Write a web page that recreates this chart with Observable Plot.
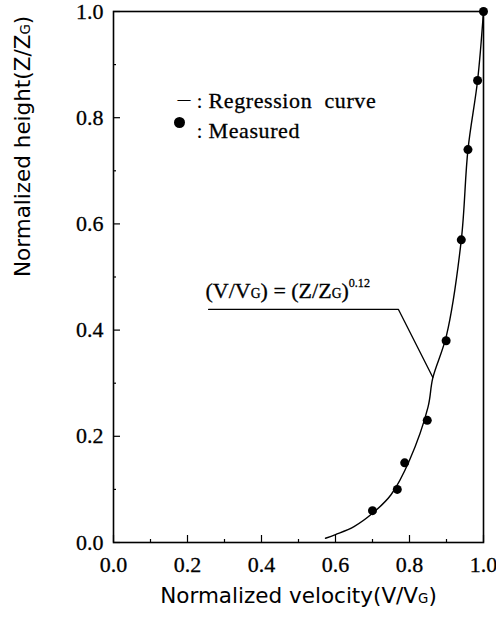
<!DOCTYPE html>
<html>
<head>
<meta charset="utf-8">
<script src="https://cdn.jsdelivr.net/npm/d3@7"></script>
<script src="https://cdn.jsdelivr.net/npm/@observablehq/plot@0.6"></script>
<style>
  body { margin: 0; background: #fff; }
  #chart svg { display: block; }
</style>
</head>
<body>
<div id="chart"></div>
<script>
// Measured points (normalized velocity V/VG, normalized height Z/ZG)
const measuredV = [0.70, 0.767, 0.787, 0.848, 0.899, 0.94, 0.958, 0.984, 1.0];
const measuredZ = [0.06, 0.10, 0.15, 0.23, 0.38, 0.57, 0.74, 0.87, 1.0];

// Regression curve
const curveV = [0.573, 0.60, 0.65, 0.70, 0.75, 0.80, 0.85, 0.863, 0.90, 0.94, 0.958, 0.984, 1.0];
const curveZ = [0.008, 0.015, 0.03, 0.055, 0.09, 0.155, 0.255, 0.31, 0.39, 0.57, 0.74, 0.87, 1.0];

// Leader line of the formula annotation
const leaderV = [0.257, 0.770, 0.863];
const leaderZ = [0.439, 0.439, 0.311];

const majorTicks = [0, 0.2, 0.4, 0.6, 0.8, 1.0];
const minorTicks = [0.1, 0.3, 0.5, 0.7, 0.9];

const legendLabels = ["Regression  curve", "Measured"];
const formulaText = "(V/VG) = (Z/ZG)0.12";

const measured = measuredV.map((v, i) => ({v, z: measuredZ[i]}));
const curve = curveV.map((v, i) => ({v, z: curveZ[i]}));
const leader = leaderV.map((v, i) => ({v, z: leaderZ[i]}));

const serif = "Liberation Serif, Times New Roman, serif";
const sans = "DejaVu Sans, sans-serif";

const plot = Plot.plot({
  width: 496,
  height: 620,
  marginLeft: 113,
  marginRight: 13,
  marginTop: 11,
  marginBottom: 78,
  style: {fontFamily: serif, color: "#000", background: "#fff"},
  x: {domain: [0, 1]},
  y: {domain: [0, 1]},
  marks: [
    Plot.frame({stroke: "#000", strokeWidth: 1.6}),
    // tick labels
    Plot.axisX(majorTicks, {tickSize: 0, tickPadding: 14, fontSize: 22, fontFamily: serif, tickFormat: d3.format(".1f"), label: null, className: "ticklab"}),
    Plot.axisY(majorTicks, {tickSize: 0, tickPadding: 10, fontSize: 22, fontFamily: serif, tickFormat: d3.format(".1f"), label: null, className: "ticklab"}),
    // inward ticks
    Plot.axisX(majorTicks, {tickSize: -7, tickFormat: () => "", label: null, strokeWidth: 1.2}),
    Plot.axisX(minorTicks, {tickSize: -3, tickFormat: () => "", label: null, strokeWidth: 1.2}),
    Plot.axisY(majorTicks, {tickSize: -7, tickFormat: () => "", label: null, strokeWidth: 1.2}),
    Plot.axisY(minorTicks, {tickSize: -3, tickFormat: () => "", label: null, strokeWidth: 1.2}),
    // regression curve
    Plot.line(curve, {x: "v", y: "z", stroke: "#000", strokeWidth: 1.4, curve: "catmull-rom"}),
    // measured
    Plot.dot(measured, {x: "v", y: "z", r: 4.5, fill: "#000"}),
    // annotation leader
    Plot.line(leader, {x: "v", y: "z", stroke: "#000", strokeWidth: 1.2}),
    Plot.text([formulaText], {frameAnchor: "top-left", dx: 92, dy: 286, lineAnchor: "bottom", textAnchor: "start", fontSize: 22, fontFamily: serif, className: "formula"}),
    // legend
    Plot.text(["—"], {frameAnchor: "top-left", dx: 64, dy: 82, fontSize: 13, fontWeight: "bold", fontFamily: serif}),
    Plot.text([":"], {frameAnchor: "top-left", dx: 83, dy: 81, fontSize: 22, fontFamily: serif}),
    Plot.text([legendLabels[0]], {frameAnchor: "top-left", dx: 95, dy: 81, textAnchor: "start", fontSize: 22, fontFamily: serif, className: "leg"}),
    Plot.dot([0], {frameAnchor: "top-left", dx: 66, dy: 111, r: 5.5, fill: "#000"}),
    Plot.text([":"], {frameAnchor: "top-left", dx: 83, dy: 111, fontSize: 22, fontFamily: serif}),
    Plot.text([legendLabels[1]], {frameAnchor: "top-left", dx: 95, dy: 111, textAnchor: "start", fontSize: 22, fontFamily: serif, className: "leg"}),
    // axis titles
    Plot.text(["Normalized velocity(V/VG)"], {frameAnchor: "bottom", dy: 60, fontSize: 21.5, fontFamily: sans, className: "xtitle"}),
    Plot.text(["Normalized height(Z/ZG)"], {frameAnchor: "left", dx: -90, rotate: -90, fontSize: 21.5, fontFamily: sans, className: "ytitle"})
  ]
});

document.getElementById("chart").appendChild(plot);

// subscript / superscript formatting
const svg = d3.select(plot);
const sub = (s) => `<tspan font-size="0.62em">${s}</tspan>`;
svg.selectAll(".formula text").html(
  `(V/V${sub("G")}) = (Z/Z${sub("G")})<tspan font-size="0.55em" dy="-0.85em">0.12</tspan>`
);
svg.selectAll(".xtitle text").html(`Normalized velocity(V/V${sub("G")})`);
svg.selectAll(".ytitle text").html(`Normalized height(Z/Z${sub("G")})`);
svg.selectAll(".ticklab text").attr("font-family", serif);
svg.selectAll(".ticklab text, .leg text, .formula text")
  .attr("stroke", "#000").attr("stroke-width", 0.3);
svg.selectAll(".leg text").attr("letter-spacing", "0.6px");
</script>
</body>
</html>
